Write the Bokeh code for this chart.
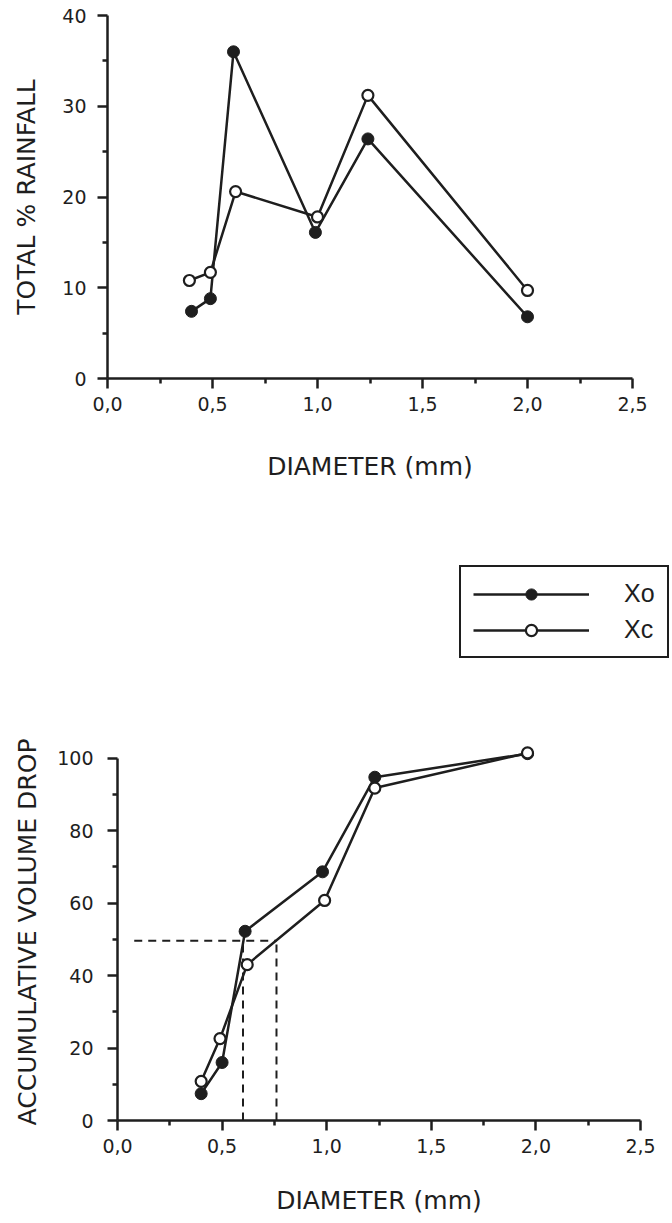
from bokeh.plotting import figure
from bokeh.layouts import column
from bokeh.models import (Range1d, FixedTicker, CustomJSTickFormatter, Legend, LegendItem)
from bokeh.embed import file_html
from bokeh.resources import INLINE

# ---- data (top: total % rainfall) ----
d_top_xo = [0.40, 0.49, 0.60, 0.99, 1.24, 2.00]
rain_xo = [7.4, 8.8, 36.0, 16.1, 26.4, 6.8]
d_top_xc = [0.39, 0.49, 0.61, 1.00, 1.24, 2.00]
rain_xc = [10.8, 11.7, 20.6, 17.8, 31.2, 9.7]

# ---- data (bottom: accumulative volume drop) ----
d_bot_xo = [0.40, 0.50, 0.61, 0.98, 1.23, 1.96]
cum_xo = [7.4, 16.0, 52.2, 68.6, 94.7, 101.2]
d_bot_xc = [0.40, 0.49, 0.62, 0.99, 1.23, 1.96]
cum_xc = [10.8, 22.6, 43.0, 60.7, 91.7, 101.4]

# median-diameter guide lines (d50)
d50_level = [49.6]
d50_start = [0.08]
d50_xo = [0.60]
d50_xc = [0.76]

series_labels = ["Xo", "Xc"]
x_ticks = [0.0, 0.5, 1.0, 1.5, 2.0, 2.5]
x_minor = [0.25, 0.75, 1.25, 1.75, 2.25]
top_y_ticks = [0, 10, 20, 30, 40]
top_y_minor = [5, 15, 25, 35]
bot_y_ticks = [0, 20, 40, 60, 80, 100]
bot_y_minor = [10, 30, 50, 70, 90]

INK = "#1e1e1e"
FONT = "DejaVu Sans"
LW = 2.5


def style(p, yticks, yminor, y_bounds, x_title_standoff, y_title_standoff, y_label_standoff):
    p.xgrid.visible = False
    p.ygrid.visible = False
    p.outline_line_color = None
    p.background_fill_color = "white"
    p.border_fill_color = "white"
    p.xaxis.ticker = FixedTicker(ticks=x_ticks, minor_ticks=x_minor)
    p.xaxis.formatter = CustomJSTickFormatter(code="return tick.toFixed(1).replace('.', ',');")
    p.yaxis.ticker = FixedTicker(ticks=yticks, minor_ticks=yminor)
    p.yaxis.bounds = y_bounds
    p.xaxis.bounds = (0, 2.5)
    for ax in (p.xaxis, p.yaxis):
        ax.axis_line_color = INK
        ax.axis_line_width = LW
        ax.major_tick_line_color = INK
        ax.major_tick_line_width = LW
        ax.minor_tick_line_color = INK
        ax.minor_tick_line_width = LW
        ax.major_tick_out = 10
        ax.major_tick_in = 0
        ax.minor_tick_out = 5
        ax.minor_tick_in = 0
        ax.major_label_text_font = FONT
        ax.major_label_text_font_size = "19px"
        ax.major_label_text_color = INK
        ax.axis_label_text_font = FONT
        ax.axis_label_text_font_size = "25px"
        ax.axis_label_text_font_style = "normal"
        ax.axis_label_text_color = INK
    p.xaxis.major_label_standoff = 8
    p.yaxis.major_label_standoff = y_label_standoff
    p.xaxis.axis_label_standoff = x_title_standoff
    p.yaxis.axis_label_standoff = y_title_standoff


def draw_series(p, xo_x, xo_y, xc_x, xc_y):
    l1 = p.line(xo_x, xo_y, line_color=INK, line_width=LW)
    s1 = p.scatter(xo_x, xo_y, marker="circle", size=12, fill_color=INK, line_color=INK)
    l2 = p.line(xc_x, xc_y, line_color=INK, line_width=LW)
    s2 = p.scatter(xc_x, xc_y, marker="circle", size=11, fill_color="white",
                   line_color=INK, line_width=2.2)
    return l1, s1, l2, s2


# ---------------- top figure ----------------
p1 = figure(width=672, height=545, output_backend="svg", toolbar_location=None,
            x_range=Range1d(0, 2.5), y_range=Range1d(0, 40),
            min_border_left=107, min_border_right=40, min_border_top=15,
            min_border_bottom=167,
            x_axis_label="DIAMETER (mm)", y_axis_label="TOTAL % RAINFALL")
p1.frame_align = False
style(p1, top_y_ticks, top_y_minor, (0, 40), 38, 18, 11)
draw_series(p1, d_top_xo, rain_xo, d_top_xc, rain_xc)

# ---------------- legend strip ----------------
pl = figure(width=672, height=140, output_backend="svg", toolbar_location=None,
            x_range=Range1d(100, 101), y_range=Range1d(100, 101),
            min_border=0, x_axis_location=None, y_axis_location=None)
pl.frame_align = False
pl.xgrid.visible = False
pl.ygrid.visible = False
pl.outline_line_color = None
# proxy renderers (data lies outside this strip's ranges, only their legend glyphs show)
lg = draw_series(pl, d_top_xo, rain_xo, d_top_xc, rain_xc)
legend = Legend(items=[LegendItem(label=series_labels[0], renderers=[lg[0], lg[1]]),
                       LegendItem(label=series_labels[1], renderers=[lg[2], lg[3]])],
                location=(459, 27))
legend.glyph_width = 116
legend.glyph_height = 28
legend.label_standoff = 35
legend.label_text_font = "Liberation Sans"
legend.label_text_font_size = "25px"
legend.label_text_color = INK
legend.label_height = 28
legend.spacing = 7
legend.padding = 12
legend.margin = 0
legend.border_line_color = INK
legend.border_line_alpha = 1.0
legend.border_line_width = 2.5
legend.background_fill_color = "white"
legend.background_fill_alpha = 1.0
pl.add_layout(legend, "center")

# ---------------- bottom figure ----------------
p2 = figure(width=672, height=538, output_backend="svg", toolbar_location=None,
            x_range=Range1d(0, 2.5), y_range=Range1d(0, 104),
            min_border_left=117, min_border_right=32, min_border_top=58,
            min_border_bottom=103,
            x_axis_label="DIAMETER (mm)", y_axis_label="ACCUMULATIVE VOLUME DROP")
p2.frame_align = False
style(p2, bot_y_ticks, bot_y_minor, (0, 100), 30, 12, 14)

# dashed d50 guides
p2.line([d50_start[0], d50_xc[0]], [d50_level[0], d50_level[0]], line_color=INK,
        line_width=2, line_dash="8 6")
p2.line([d50_xo[0], d50_xo[0]], [0, d50_level[0]], line_color=INK, line_width=2,
        line_dash="8 6")
p2.line([d50_xc[0], d50_xc[0]], [0, d50_level[0]], line_color=INK, line_width=2,
        line_dash="8 6")
draw_series(p2, d_bot_xo, cum_xo, d_bot_xc, cum_xc)

layout = column(p1, pl, p2, spacing=0)
open("out.html", "w").write(file_html(layout, INLINE))
